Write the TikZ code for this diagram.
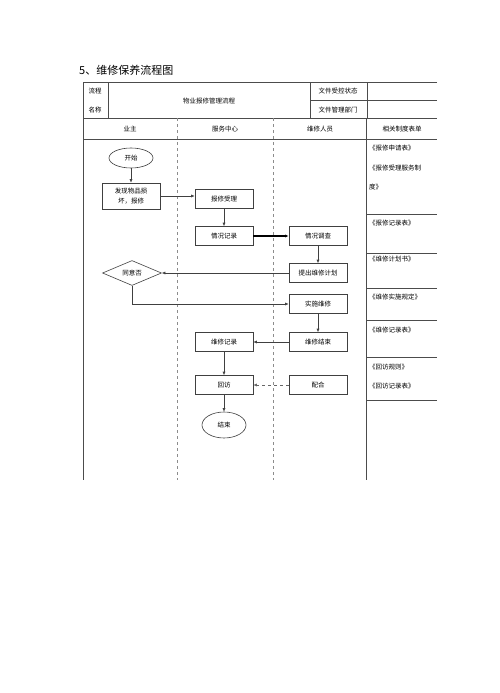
\documentclass[tikz,border=0pt]{standalone}
\usepackage{fontspec}
\setmainfont{Liberation Serif}
\newfontfamily\cjk{Noto Sans CJK SC}
\usetikzlibrary{shapes.geometric,arrows.meta}

\tikzset{
  tbl/.style={draw=black!70, line width=0.6pt},
  lane/.style={draw=black!45, dashed, line width=0.6pt},
  flowbox/.style={draw=black!75, line width=0.6pt, minimum width=58pt, minimum height=19pt, inner sep=1pt, font=\cjk\fontsize{6.5}{8}\selectfont},
  terminal/.style={draw=black!75, line width=0.6pt, ellipse, minimum width=44pt, minimum height=20pt, inner sep=0pt, font=\cjk\fontsize{6.5}{8}\selectfont},
  decision/.style={draw=black!75, line width=0.6pt, diamond, aspect=2.4, minimum width=59pt, minimum height=25pt, inner sep=0pt, font=\cjk\fontsize{6.5}{8}\selectfont},
  flow/.style={draw=black!75, line width=0.6pt, -{Latex[length=3.5pt,width=3pt]}},
  celltext/.style={font=\cjk\fontsize{6.5}{8}\selectfont, inner sep=0pt},
}

\begin{document}
\begin{tikzpicture}[x=1pt, y=-1pt]
\useasboundingbox[fill=white] (0,0) rectangle (500,693);

\node[right, font=\cjk\fontsize{11}{13}\selectfont, inner sep=0pt] (title) at (79,70) {5、维修保养流程图};

% table
\draw[tbl] (437,82) -- (83,82) -- (83,480);
\draw[tbl] (83,118) -- (437,118);
\draw[tbl] (83,139) -- (437,139);
\draw[tbl] (108,82) -- (108,118);
\draw[tbl] (310,82) -- (310,118);
\draw[tbl] (367,82) -- (367,118);
\draw[tbl] (310,100) -- (437,100);
\draw[tbl] (366,118) -- (366,480);
\draw[lane] (177,118) -- (177,480);
\draw[lane] (273,118) -- (273,480);
\foreach \y in {214,253,288,320,357,400}
  \draw[tbl] (366,\y) -- (437,\y);

\node[celltext] (h1) at (95,91) {流程};
\node[celltext] (h2) at (95,110) {名称};
\node[celltext] (h3) at (209,101) {物业报修管理流程};
\node[celltext] (h4) at (338,91) {文件受控状态};
\node[celltext] (h5) at (338,110) {文件管理部门};

\node[celltext] (c1) at (130,129) {业主};
\node[celltext] (c2) at (225,129) {服务中心};
\node[celltext] (c3) at (320,129) {维修人员};
\node[celltext] (c4) at (402,129) {相关制度表单};

\node[celltext, right] at (369,148) {《报修申请表》};
\node[celltext, right] at (369,168) {《报修受理服务制};
\node[celltext, right] at (369,187) {度》};
\node[celltext, right] at (369,223) {《报修记录表》};
\node[celltext, right] at (369,259) {《维修计划书》};
\node[celltext, right] at (369,297) {《维修实施规定》};
\node[celltext, right] at (369,330) {《维修记录表》};
\node[celltext, right] at (369,367) {《回访规则》};
\node[celltext, right] at (369,386) {《回访记录表》};

% flow
\node[terminal] (start) at (131,158) {开始};
\node[flowbox, minimum height=26pt, align=center] (report) at (131,196) {发现物品损\\[2pt]坏，报修};
\node[flowbox] (accept) at (224,199) {报修受理};
\node[flowbox] (record) at (224,236) {情况记录};
\node[flowbox] (survey) at (318,236) {情况调查};
\node[flowbox] (plan) at (318,273) {提出维修计划};
\node[decision] (agree) at (132,273) {同意否};
\node[flowbox] (repair) at (318,304) {实施维修};
\node[flowbox] (finish) at (318,342) {维修结束};
\node[flowbox] (log) at (224,342) {维修记录};
\node[flowbox] (visit) at (224,385) {回访};
\node[flowbox] (assist) at (318,385) {配合};
\node[terminal, minimum height=26pt] (end) at (224,425) {结束};

\draw[flow] (start) -- (report);
\draw[flow] (report.east) -- (report.east -| accept.west);
\draw[flow] (accept) -- (record);
\draw[flow, line width=1.1pt, draw=black] (record) -- (survey);
\draw[flow] (survey) -- (plan);
\draw[flow] (plan) -- (agree);
\draw[flow] (agree.south) |- (repair.west);
\draw[flow] (repair) -- (finish);
\draw[flow] (finish) -- (log);
\draw[flow] (log) -- (visit);
\draw[flow, dashed, draw=black!60] (assist) -- (visit);
\draw[flow] (visit) -- (end);

\end{tikzpicture}
\end{document}
